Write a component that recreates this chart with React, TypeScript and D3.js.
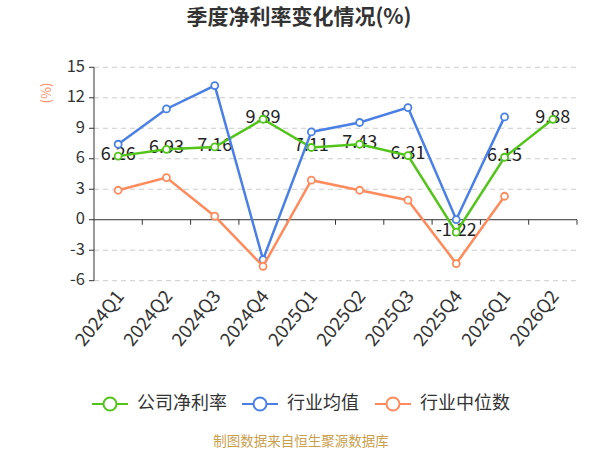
import React from "react";
import * as d3 from "d3";

const categories = ["2024Q1","2024Q2","2024Q3","2024Q4","2025Q1","2025Q2","2025Q3","2025Q4","2026Q1","2026Q2"];
const companyNetMargin: (number | null)[] = [6.26, 6.93, 7.16, 9.89, 7.11, 7.43, 6.31, -1.22, 6.15, 9.88];
const industryMean: (number | null)[] = [7.43, 10.9, 13.2, -3.92, 8.64, 9.57, 11.04, 0.02, 10.12, null];
const industryMedian: (number | null)[] = [2.9, 4.15, 0.35, -4.58, 3.89, 2.9, 1.92, -4.31, 2.31, null];
const yTicks = [15, 12, 9, 6, 3, 0, -3, -6];
const seriesNames = ["公司净利率", "行业均值", "行业中位数"];

const W = 600, H = 450;
const left = 94, right = 577, top = 67.3, bottom = 280.7;
const colors = ["#52c41a", "#4a80e6", "#ff8a5b"];
const font = "'Noto Sans CJK SC', 'Noto Sans', sans-serif";

export default function App() {
  const x = d3.scaleBand<string>().domain(categories).range([left, right]);
  const y = d3.scaleLinear().domain([-6, 15]).range([bottom, top]);
  const cx = (c: string) => (x(c) as number) + x.bandwidth() / 2;
  const series = [companyNetMargin, industryMean, industryMedian];
  const line = d3.line<[string, number | null]>()
    .defined(d => d[1] !== null)
    .x(d => cx(d[0]))
    .y(d => y(d[1] as number));

  const legendX = [92, 242, 375];

  return (
    <svg width={W} height={H} style={{ position: "absolute", left: 0, top: 0, background: "#fff" }} fontFamily={font}>
      <text x={299} y={18} textAnchor="middle" dominantBaseline="middle" fontSize={21} fontWeight="bold" fill="#333">季度净利率变化情况(%)</text>
      <text transform={`translate(47,93) rotate(-90)`} textAnchor="middle" dominantBaseline="middle" fontSize={13} fill="#ff8a5b">(%)</text>
      {yTicks.map(t => (
        <g key={t}>
          {t !== 0 && <line x1={left} x2={right} y1={y(t)} y2={y(t)} stroke="#ccc" strokeDasharray="5,4" strokeWidth={1} />}
          <line x1={left - 5} x2={left} y1={y(t)} y2={y(t)} stroke="#333" strokeWidth={1} />
          <text x={left - 9} y={y(t)} textAnchor="end" dominantBaseline="middle" fontSize={16.5} fill="#333">{t}</text>
        </g>
      ))}
      <line x1={left} x2={left} y1={top} y2={bottom} stroke="#333" strokeWidth={1} />
      <line x1={left} x2={right} y1={y(0)} y2={y(0)} stroke="#333" strokeWidth={1} />
      {categories.map((c) => (
        <line key={c} x1={(x(c) as number) + x.bandwidth()} x2={(x(c) as number) + x.bandwidth()} y1={y(0)} y2={y(0) + 5} stroke="#333" strokeWidth={1} />
      ))}
      {categories.map(c => (
        <text key={c} transform={`translate(${cx(c) + 3},${bottom + 13}) rotate(-51)`} textAnchor="end" dominantBaseline="middle" fontSize={18.5} fill="#333">{c}</text>
      ))}
      {companyNetMargin.map((v, i) => v === null ? null : (
        <text key={"l" + i} x={cx(categories[i])} y={y(v) - 1} textAnchor="middle" dominantBaseline="middle" fontSize={18} fill="#222">{v.toFixed(2)}</text>
      ))}
      {series.map((s, si) => {
        const pts = categories.map((c, i) => [c, s[i]] as [string, number | null]);
        return (
          <g key={si}>
            <path d={line(pts) || ""} fill="none" stroke={colors[si]} strokeWidth={2.5} />
            {pts.map(([c, v]) => v === null ? null : (
              <circle key={c} cx={cx(c)} cy={y(v)} r={3.5} fill="#fff" stroke={colors[si]} strokeWidth={1.8} />
            ))}
          </g>
        );
      })}
      {seriesNames.map((n, i) => (
        <g key={n}>
          <line x1={legendX[i]} x2={legendX[i] + 36} y1={404} y2={404} stroke={colors[i]} strokeWidth={2} />
          <circle cx={legendX[i] + 18} cy={404} r={6.5} fill="#fff" stroke={colors[i]} strokeWidth={2} />
          <text x={legendX[i] + 45} y={404} dominantBaseline="middle" fontSize={18} fill="#333">{n}</text>
        </g>
      ))}
      <text x={301} y={442} textAnchor="middle" dominantBaseline="middle" fontSize={13.5} fill="#c9a04e">制图数据来自恒生聚源数据库</text>
    </svg>
  );
}
